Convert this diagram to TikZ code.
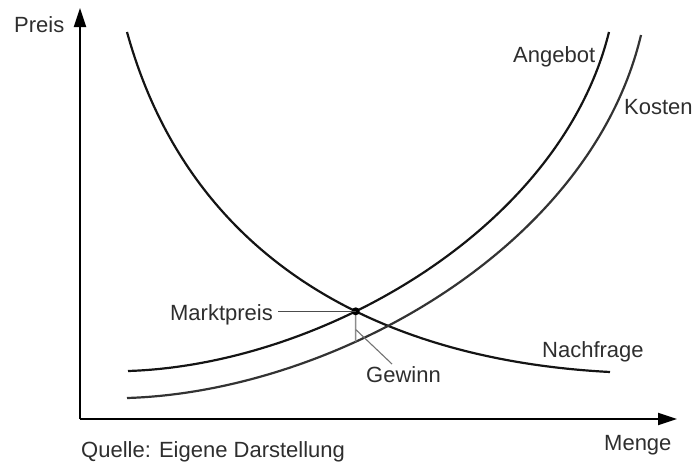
\documentclass[tikz,border=0pt]{standalone}
\usepackage{fontspec}
\setmainfont{Liberation Sans}
\usetikzlibrary{arrows.meta,intersections,calc}
\begin{document}
\begin{tikzpicture}[x=1pt,y=-1pt,
  curve/.style={line width=2.2pt, black!92},
  axisline/.style={line width=2.2pt, black, -{Triangle[length=19pt,width=12pt]}},
  lbl/.style={font=\fontsize{22}{26}\selectfont, text=black!82, inner sep=0pt},
  grayline/.style={line width=1.5pt, black!45},
  leader/.style={line width=1.1pt, black!70}]
\useasboundingbox (0,0) rectangle (694,461);
% axes
\coordinate (o) at (80,419);
\coordinate (ytop) at (80,8);
\coordinate (xend) at (677,419);
\draw[axisline] (o) -- (ytop);
\draw[axisline] (o) -- (xend);
\node[lbl, anchor=base west] (preis) at (14,32) {Preis};
\node[lbl, anchor=base west] (menge) at (604,450) {Menge};
\node[lbl, anchor=base west] (quelle) at (81,457) {Quelle: Eigene Darstellung};
% curves
\draw[curve, name path=nachfrage] (127,32) .. controls (190,260) and (380,360) .. (610,372);
\draw[curve, name path=angebot] (128,371) .. controls (320,365) and (560,230) .. (609,32);
\draw[curve, black!80, name path=kosten] (127,398) .. controls (330,392) and (590,250) .. (641,35);
% market price
\path[name intersections={of=nachfrage and angebot, by=mp}];
\path[name path=vert] (mp) -- ++(0,60);
\path[name intersections={of=vert and kosten, by=kp}];
\draw[grayline] (mp) -- (kp);
\fill[black] (mp) circle (4pt);
\node[lbl, anchor=base east] (markt) at (273,320) {Marktpreis};
\coordinate (ml) at (278,0);
\draw[leader] (ml |- mp) -- (mp);
% labels
\node[lbl, anchor=base west] (angebot) at (513,62) {Angebot};
\node[lbl, anchor=base west] (kosten) at (624,114) {Kosten};
\node[lbl, anchor=base west] (nachfrage) at (542,357) {Nachfrage};
\node[lbl, anchor=base west] (gewinn) at (366,382) {Gewinn};
\coordinate (gl) at ($(mp)!0.6!(kp)$);
\coordinate (ge) at (392,364);
\draw[grayline, line width=1.1pt, black!55] (gl) -- (ge);
\end{tikzpicture}
\end{document}
